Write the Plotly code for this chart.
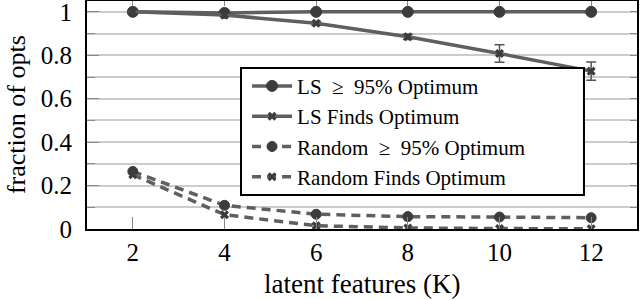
import plotly.graph_objects as go

K = [2, 4, 6, 8, 10, 12]
ls_95 = [1.0, 0.995, 1.0, 1.0, 1.0, 1.0]
ls_find = [1.0, 0.985, 0.948, 0.885, 0.808, 0.727]
ls_find_err = [0.0, 0.005, 0.008, 0.012, 0.04, 0.042]
rnd_95 = [0.265, 0.109, 0.068, 0.057, 0.055, 0.052]
rnd_find = [0.25, 0.066, 0.015, 0.005, 0.002, 0.001]

names = ["LS\u00a0\u00a0≥\u00a0\u00a095% Optimum", "LS Finds Optimum",
         "Random\u00a0\u00a0≥\u00a0\u00a095% Optimum", "Random Finds Optimum"]
x_title = "latent features (K)"
y_title = "fraction of opts"

LINE = "#5f5f5f"
MARK = "#3c3c3c"
FONT = "Liberation Serif"

fig = go.Figure()
fig.add_trace(go.Scatter(x=K, y=ls_95, name=names[0], mode="lines+markers",
                         line=dict(color=LINE, width=3.5),
                         marker=dict(symbol="circle", size=11, color=MARK,
                                     line=dict(color=MARK, width=1))))
fig.add_trace(go.Scatter(x=K, y=ls_find, name=names[1], mode="lines+markers",
                         line=dict(color=LINE, width=3.5),
                         marker=dict(symbol="x", size=8, color=MARK),
                         error_y=dict(type="data", array=ls_find_err, color="#555555",
                                      thickness=1.5, width=5)))
fig.add_trace(go.Scatter(x=K, y=rnd_95, name=names[2], mode="lines+markers",
                         line=dict(color=LINE, width=3.5, dash="9px,6px"),
                         marker=dict(symbol="circle", size=10, color=MARK,
                                     line=dict(color=MARK, width=1))))
fig.add_trace(go.Scatter(x=K, y=rnd_find, name=names[3], mode="lines+markers",
                         line=dict(color=LINE, width=3.5, dash="9px,6px"),
                         marker=dict(symbol="x", size=8, color=MARK)))
# empty helper trace for mirrored tick axes
fig.add_trace(go.Scatter(x=[], y=[], xaxis="x2", yaxis="y2", showlegend=False,
                         hoverinfo="skip"))

fig.update_layout(
    width=640, height=300,
    margin=dict(l=87, r=3, t=1, b=71),
    paper_bgcolor="white", plot_bgcolor="white",
    font=dict(family=FONT, color="black"),
    showlegend=True,
    legend=dict(x=0.291, y=0.716, xanchor="left", yanchor="top",
                bgcolor="rgba(0,0,0,0)", borderwidth=0,
                font=dict(family=FONT, size=21, color="black"),
                tracegroupgap=0, itemwidth=40),
    shapes=[dict(type="rect", xref="paper", yref="paper",
                 x0=0.28, x1=0.9036, y0=0.149, y1=0.706, layer="above",
                 fillcolor="white", line=dict(color="black", width=2))],
    xaxis=dict(range=[1, 13], tickvals=K, ticktext=[str(k) for k in K],
               ticks="inside", ticklen=12, tickcolor="#888888", tickwidth=1,
               showgrid=False, zeroline=False, automargin=False,
               ticklabeloverflow="allow",
               showline=True, linecolor="black", linewidth=2, mirror=True,
               tickfont=dict(family=FONT, size=25)),
    yaxis=dict(range=[0, 1.05], dtick=0.2, tick0=0,
               ticks="inside", ticklen=12, tickcolor="#888888", tickwidth=1,
               showgrid=True, gridcolor="#cccccc", gridwidth=1.5,
               minor=dict(dtick=0.1, ticks="inside", ticklen=8, tickcolor="#888888",
                          showgrid=True, gridcolor="#cccccc", gridwidth=1.5),
               zeroline=False, automargin=False,
               ticklabeloverflow="allow", ticklabelstandoff=8,
               showline=True, linecolor="black", linewidth=2, mirror=True,
               tickfont=dict(family=FONT, size=25)),
    xaxis2=dict(overlaying="x", side="top", anchor="y2", range=[1, 13], tickvals=K,
                ticks="inside", ticklen=5, tickcolor="#888888", showticklabels=False,
                showgrid=False, zeroline=False, showline=False, automargin=False),
    yaxis2=dict(overlaying="y", side="right", anchor="x2", range=[0, 1.05], dtick=0.1,
                ticks="inside", ticklen=7, tickcolor="#888888", showticklabels=False,
                showgrid=False, zeroline=False, showline=False, automargin=False),
    annotations=[
        dict(text=x_title, xref="paper", yref="paper", x=0.5, y=-0.24,
             xanchor="center", yanchor="middle", showarrow=False,
             font=dict(family=FONT, size=27, color="black")),
        dict(text=y_title, xref="paper", yref="paper", x=-0.129, y=0.5,
             xanchor="center", yanchor="middle", textangle=-90, showarrow=False,
             font=dict(family=FONT, size=26, color="black")),
    ],
)

fig.write_html("out.html", config={"displayModeBar": False},
               post_script="document.body.style.margin='0';")
